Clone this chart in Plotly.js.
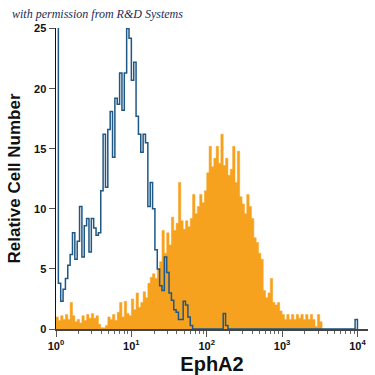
<!DOCTYPE html>
<html>
<head>
<meta charset="utf-8">
<script src="https://cdn.plot.ly/plotly-3.0.1.min.js"></script>
<style>html,body{margin:0;padding:0;background:#fff;}#chart{width:375px;height:375px;}</style>
</head>
<body>
<div id="chart"></div>
<script>
// Histogram channel settings (4 decades, 32 bins per decade)
const decades = 4;
const binsPerDecade = 32;

// Isotype control (blue outline histogram), one value per bin
const controlCounts = [
  30, 3.8, 2.3, 3.3, 4.2, 5.3, 6.2, 8.0, 5.8, 7.3,
  10.2, 6.0, 8.6, 9.2, 6.4, 9.2, 8.4, 7.8, 8.0, 11.5,
  16.2, 11.8, 16.6, 18.1, 14.3, 19.2, 18.7, 21.3, 18.2, 21.3,
  25.0, 24.2, 20.7, 22.2, 17.7, 16.2, 14.7, 16.2, 15.5, 10.2,
  12.2, 10.0, 6.6, 5.0, 3.6, 3.2, 6.0, 4.7, 3.0, 2.4,
  1.6, 1.4, 0.8, 0.8, 2.3, 2.0, 1.0, 0.3, 0, 0,
  0, 0, 0, 0, 0, 0, 0, 0, 0, 0,
  0, 1.3, 0.3, 0, 0, 0, 0, 0, 0, 0,
  0, 0, 0, 0, 0, 0, 0, 0, 0, 0,
  0, 0, 0, 0, 0, 0, 0, 0, 0, 0,
  0, 0, 0, 0, 0, 0, 0, 0, 0, 0,
  0, 0, 0, 0, 0, 0, 0, 0, 0, 0,
  0, 0, 0, 0, 0, 0, 0, 0.8
];

// EphA2 stained cells (orange filled histogram), one value per bin
const ephA2Counts = [
  1.0, 0.7, 1.1, 0.8, 1.2, 0.8, 2.2, 1.1, 0.6, 0.8,
  0.5, 1.1, 0.7, 1.2, 0.9, 1.3, 0.9, 1.1, 0.4, 0.1,
  0.1, 0.3, 1.0, 0.8, 1.2, 0.7, 1.4, 2.2, 1.0, 2.3,
  1.3, 1.1, 2.5, 1.6, 3.0, 1.8, 2.2, 3.1, 2.6, 3.8,
  4.3, 4.6, 4.2, 5.0, 5.6, 8.2, 6.3, 8.0, 7.0, 9.3,
  8.2, 8.8, 12.2, 9.0, 8.3, 9.0, 8.5, 9.2, 11.2, 9.6,
  10.2, 11.2, 10.5, 11.5, 13.0, 15.2, 13.5, 14.2, 15.2, 13.8,
  16.2, 13.6, 14.2, 12.8, 13.3, 15.2, 12.2, 14.8, 11.0, 10.4,
  9.6, 11.2, 10.2, 9.2, 7.6, 7.2, 6.3, 5.8, 3.2, 2.6,
  3.0, 4.2, 2.2, 2.0, 2.2, 1.5, 1.2, 0.8, 1.2, 0.8,
  1.2, 0.8, 1.2, 0.9, 1.2, 0.8, 1.2, 0.8, 1.2, 0.8,
  0.2, 1.2, 0.6, 0, 0, 0, 0, 0, 0, 0,
  0, 0, 0, 0, 0, 0, 0, 0
];

// Axis tick labels
const yTicks = [0, 5, 10, 15, 20, 25];
const xTickVals = [1, 10, 100, 1000, 10000];
const xTickText = ['10<sup>0</sup>', '10<sup>1</sup>', '10<sup>2</sup>', '10<sup>3</sup>', '10<sup>4</sup>'];
const xMinorVals = [];
for (let d = 0; d < decades; d++) {
  for (let m = 2; m <= 9; m++) xMinorVals.push(m * Math.pow(10, d));
}

// bin left edges (plus final right edge)
const nBins = decades * binsPerDecade;
const edges = [];
for (let i = 0; i <= nBins; i++) edges.push(Math.pow(10, i / binsPerDecade));

const orangeY = ephA2Counts.concat([0]);
const blueY = controlCounts.concat([0]);

const traces = [
  {
    x: edges, y: orangeY, type: 'scatter', mode: 'lines',
    line: {shape: 'hv', width: 0.5, color: '#f6a01e'},
    fill: 'tozeroy', fillcolor: '#f7a21f',
    hoverinfo: 'skip', showlegend: false
  },
  {
    x: edges, y: blueY, type: 'scatter', mode: 'lines',
    line: {shape: 'hv', width: 1.5, color: '#1f5785'},
    hoverinfo: 'skip', showlegend: false
  }
];

const layout = {
  width: 375, height: 375,
  margin: {l: 56, r: 7, t: 28, b: 46},
  paper_bgcolor: '#ffffff', plot_bgcolor: '#ffffff',
  showlegend: false,
  xaxis: {
    type: 'log', range: [0, 4.14],
    tickmode: 'array', tickvals: xTickVals, ticktext: xTickText,
    ticks: 'outside', ticklen: 6, tickwidth: 1, tickcolor: '#555',
    minor: {tickmode: 'array', tickvals: xMinorVals, ticks: 'outside', ticklen: 3, tickcolor: '#666', tickwidth: 1},
    showline: true, linecolor: '#444', linewidth: 1.5,
    showgrid: false, zeroline: false,
    tickfont: {family: 'Liberation Sans, Arial, sans-serif', size: 11, color: '#111', weight: 'bold'},
    title: {text: 'EphA2', font: {family: 'Liberation Sans, Arial, sans-serif', size: 20, color: '#111', weight: 'bold'}, standoff: 6}
  },
  yaxis: {
    range: [0, 25.05],
    tickmode: 'array', tickvals: yTicks,
    ticks: 'outside', ticklen: 6, tickwidth: 1, tickcolor: '#555',
    showline: true, linecolor: '#111', linewidth: 1.5,
    showgrid: false, zeroline: false,
    tickfont: {family: 'Liberation Sans, Arial, sans-serif', size: 11, color: '#111', weight: 'bold'},
    title: {text: 'Relative Cell Number', font: {family: 'Liberation Sans, Arial, sans-serif', size: 17, color: '#111', weight: 'bold'}, standoff: 9}
  },
  annotations: [{
    text: 'with permission from R&amp;D Systems',
    xref: 'paper', yref: 'paper', x: -0.148, y: 1.045,
    xanchor: 'left', yanchor: 'middle', showarrow: false,
    font: {family: 'Liberation Serif, DejaVu Serif, serif', size: 12, color: '#1c2a55', style: 'italic'}
  }]
};

Plotly.newPlot('chart', traces, layout, {staticPlot: true, displayModeBar: false});
</script>
</body>
</html>
